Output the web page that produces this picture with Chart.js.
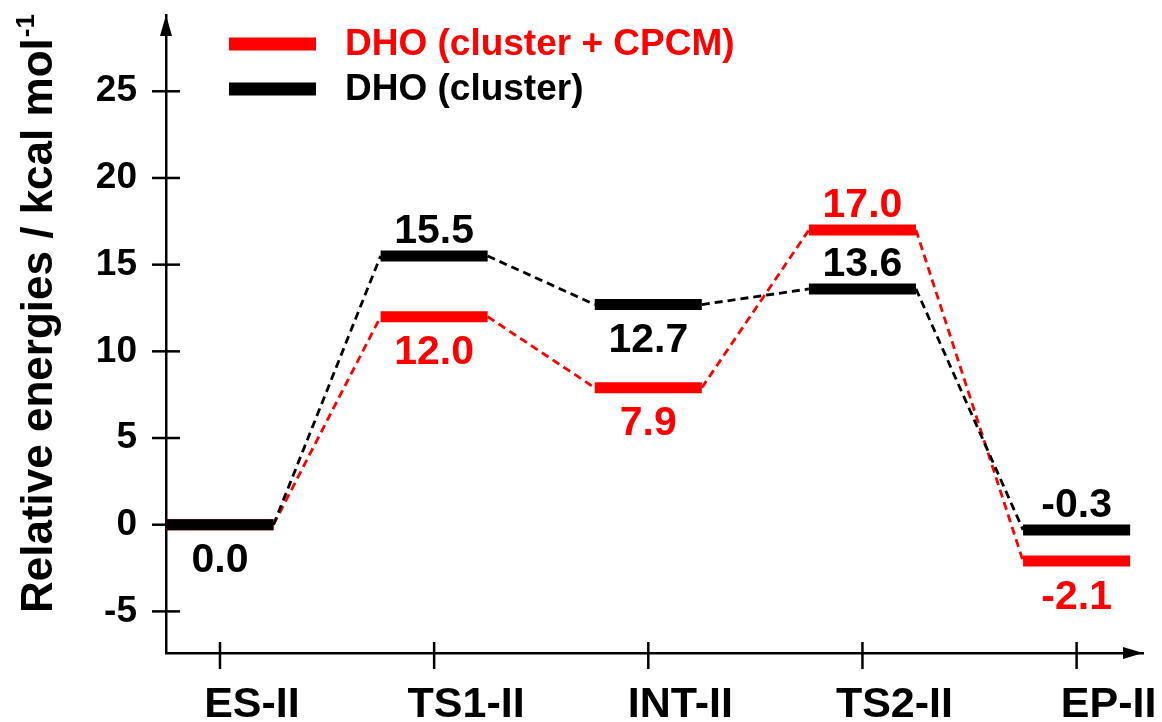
<!DOCTYPE html>
<html>
<head>
<meta charset="utf-8">
<script src="https://cdn.jsdelivr.net/npm/chart.js@4.4.1/dist/chart.umd.min.js"></script>
<style>
  body { margin: 0; background: #fff; }
  canvas { display: block; }
</style>
</head>
<body>
<canvas id="grafico" width="1162" height="722"></canvas>
<script>
// dados
const categorias = ['ES-II', 'TS1-II', 'INT-II', 'TS2-II', 'EP-II'];
const energiasCpcm = [0.0, 12.0, 7.9, 17.0, -2.1];
const energiasCluster = [0.0, 15.5, 12.7, 13.6, -0.3];
const rotulosSeries = ['DHO (cluster + CPCM)', 'DHO (cluster)'];
const ticksY = [-5, 0, 5, 10, 15, 20, 25];

// onde fica o numero de cada nivel (acima / abaixo)
const ladoCpcm = [null, 'below', 'below', 'above', 'below'];
const ladoCluster = ['below', 'above', 'below', 'above', 'above'];

const MEIA_LARGURA = 0.25;
const FONTE = "'Liberation Sans', Arial, sans-serif";

// cada nivel vira dois pontos (inicio e fim do traço)
function pontosNiveis(valores) {
    let pts = [];
    valores.forEach((v, i) => {
        pts.push({ x: i - MEIA_LARGURA, y: v });
        pts.push({ x: i + MEIA_LARGURA, y: v });
    });
    return pts;
}

function serie(label, valores, cor, ordem) {
    return {
        label: label,
        data: pontosNiveis(valores),
        order: ordem,
        borderColor: cor,
        backgroundColor: cor,
        pointRadius: 0,
        tension: 0,
        fill: false,
        borderWidth: 11,
        segment: {
            borderWidth: ctx => ctx.p0DataIndex % 2 === 0 ? 11 : 2.8,
            borderDash: ctx => ctx.p0DataIndex % 2 === 0 ? [] : [8, 5]
        }
    };
}

const pluginDiagrama = {
    id: 'diagrama',
    afterDraw(chart) {
        const { ctx, chartArea: a, scales: { x, y } } = chart;
        ctx.save();
        ctx.strokeStyle = '#000';
        ctx.fillStyle = '#000';
        ctx.lineWidth = 2.5;

        function linha(x1, y1, x2, y2) {
            ctx.beginPath();
            ctx.moveTo(x1, y1);
            ctx.lineTo(x2, y2);
            ctx.stroke();
        }

        // marcas cruzando os eixos
        ticksY.forEach(v => {
            const py = y.getPixelForValue(v);
            linha(a.left - 14, py, a.left + 14, py);
        });
        categorias.forEach((c, i) => {
            const px = x.getPixelForValue(i);
            linha(px, a.bottom - 11, px, a.bottom + 16);
        });

        // setas
        ctx.beginPath();
        ctx.moveTo(a.left, a.top);
        ctx.lineTo(a.left - 6, a.top + 21);
        ctx.lineTo(a.left + 6, a.top + 21);
        ctx.closePath();
        ctx.fill();
        ctx.beginPath();
        ctx.moveTo(a.right, a.bottom);
        ctx.lineTo(a.right - 20, a.bottom - 6);
        ctx.lineTo(a.right - 20, a.bottom + 6);
        ctx.closePath();
        ctx.fill();

        // numeros dos niveis
        ctx.font = 'bold 41px ' + FONTE;
        ctx.textAlign = 'center';
        ctx.textBaseline = 'alphabetic';
        const meiaCap = 41 * 0.716 / 2;
        function rotulos(valores, lados, cor) {
            ctx.fillStyle = cor;
            valores.forEach((v, i) => {
                if (!lados[i]) return;
                const px = x.getPixelForValue(i);
                const py = y.getPixelForValue(v);
                const cy = lados[i] === 'above' ? py - 28 : py + 33;
                ctx.fillText(v.toFixed(1), px, cy + meiaCap);
            });
        }
        rotulos(energiasCpcm, ladoCpcm, '#ff0000');
        rotulos(energiasCluster, ladoCluster, '#000000');

        // legenda
        const coresLegenda = ['#ff0000', '#000000'];
        const yLegenda = [44, 89];
        ctx.font = 'bold 37px ' + FONTE;
        ctx.textAlign = 'left';
        ctx.textBaseline = 'middle';
        rotulosSeries.forEach((txt, i) => {
            ctx.strokeStyle = coresLegenda[i];
            ctx.fillStyle = coresLegenda[i];
            ctx.lineWidth = 13;
            linha(229, yLegenda[i], 316, yLegenda[i]);
            ctx.fillText(txt, 345, yLegenda[i] + 1);
        });

        // titulo do eixo y
        ctx.fillStyle = '#000';
        ctx.translate(52, 613);
        ctx.rotate(-Math.PI / 2);
        ctx.textBaseline = 'alphabetic';
        ctx.font = 'bold 44px ' + FONTE;
        const titulo = 'Relative energies / kcal mol';
        ctx.fillText(titulo, 0, 0);
        const w = ctx.measureText(titulo).width;
        ctx.font = 'bold 26px ' + FONTE;
        ctx.fillText('-1', w + 1, -18);

        ctx.restore();
    }
};

new Chart(document.getElementById('grafico'), {
    type: 'line',
    data: {
        datasets: [
            serie(rotulosSeries[0], energiasCpcm, '#ff0000', 1),
            serie(rotulosSeries[1], energiasCluster, '#000000', 0)
        ]
    },
    options: {
        responsive: false,
        animation: false,
        layout: { autoPadding: false, padding: { top: 15, right: 19, bottom: 0, left: 0 } },
        plugins: {
            legend: { display: false },
            tooltip: { enabled: false }
        },
        scales: {
            x: {
                type: 'linear',
                min: -0.252,
                max: 4.31,
                grid: { display: false, drawTicks: false },
                border: { display: true, color: '#000', width: 2.5 },
                afterBuildTicks: axis => { axis.ticks = categorias.map((c, i) => ({ value: i })); },
                afterFit: scale => { scale.height = 69; scale.paddingLeft = 0; scale.paddingRight = 0; },
                ticks: {
                    autoSkip: false,
                    maxRotation: 0,
                    padding: 26,
                    labelOffset: 32,
                    color: '#000',
                    font: { family: FONTE, size: 43, weight: 'bold' },
                    callback: v => categorias[v] || ''
                }
            },
            y: {
                type: 'linear',
                min: -7.4,
                max: 29.4,
                grid: { display: false, drawTicks: false },
                border: { display: true, color: '#000', width: 2.5 },
                afterBuildTicks: axis => { axis.ticks = ticksY.map(v => ({ value: v })); },
                afterFit: scale => { scale.width = 166; scale.paddingTop = 0; scale.paddingBottom = 0; },
                ticks: {
                    padding: 29,
                    color: '#000',
                    font: { family: FONTE, size: 37, weight: 'bold' },
                    callback: v => String(v)
                }
            }
        }
    },
    plugins: [pluginDiagrama]
});
</script>
</body>
</html>
